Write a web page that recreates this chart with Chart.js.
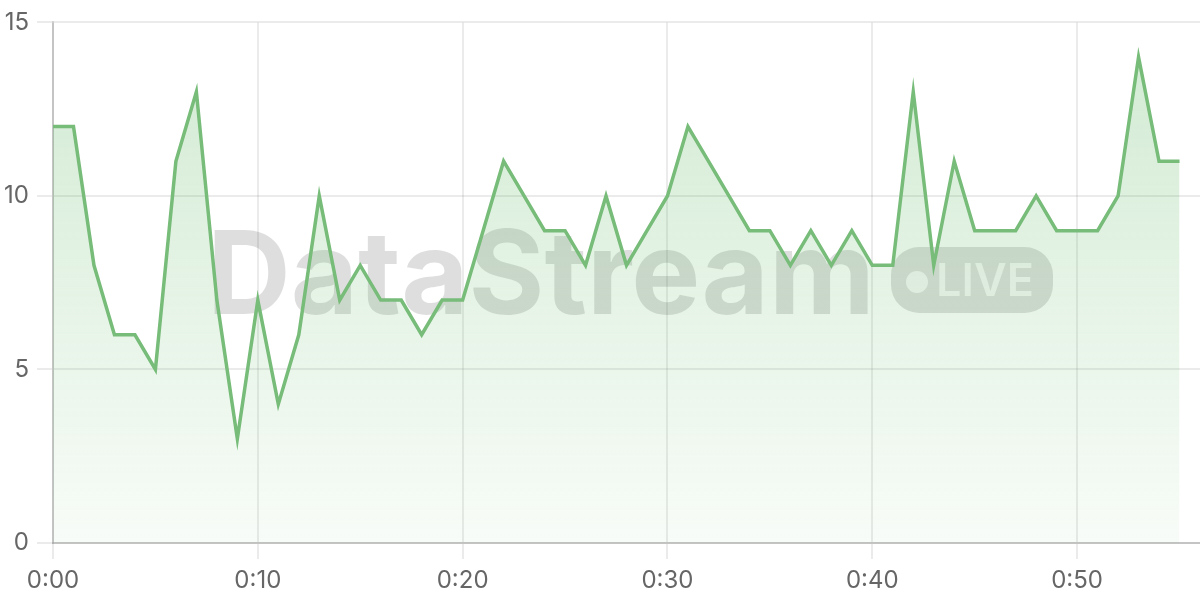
<!DOCTYPE html>
<html>
<head>
<meta charset="utf-8">
<script src="https://cdn.jsdelivr.net/npm/chart.js@4.4.1/dist/chart.umd.min.js"></script>
<style>
html,body{margin:0;padding:0;background:#fff;}
canvas{display:block;}
</style>
</head>
<body>
<canvas id="c" width="1200" height="600"></canvas>
<script>
// minutes since start
const minutes = [0,1,2,3,4,5,6,7,8,9,10,11,12,13,14,15,16,17,18,19,20,21,22,23,24,25,26,27,28,29,30,31,32,33,34,35,36,37,38,39,40,41,42,43,44,45,46,47,48,49,50,51,52,53,54,55];
const values = [12,12,8,6,6,5,11,13,7,3,7,4,6,10,7,8,7,7,6,7,7,9,11,10,9,9,8,10,8,9,10,12,11,10,9,9,8,9,8,9,8,8,13,8,11,9,9,9,10,9,9,9,10,14,11,11];
const yTicks = [0,5,10,15];
const xTicks = [0,10,20,30,40,50];
const xTickLabels = ['0:00','0:10','0:20','0:30','0:40','0:50'];
const watermarkText = 'DataStream';
const badgeText = 'LIVE';

const points = minutes.map((m,i)=>({x:m,y:values[i]}));

const watermark = {
  id:'watermark',
  beforeDatasetsDraw(chart){
    const ctx = chart.ctx;
    ctx.save();
    ctx.fillStyle = 'rgba(0,0,0,0.13)';
    ctx.font = 'bold 116px Inter, "Liberation Sans", sans-serif';
    ctx.textBaseline = 'alphabetic';
    ctx.textAlign = 'left';
    ctx.fillText(watermarkText, 207, 314);
    // badge with cut-out dot and text
    const off = document.createElement('canvas');
    off.width = 1200; off.height = 600;
    const o = off.getContext('2d');
    o.fillStyle = 'rgba(0,0,0,0.13)';
    const bx=891, by=247, bw=162, bh=66, r=28;
    o.beginPath();
    o.moveTo(bx+r,by);
    o.lineTo(bx+bw-r,by);
    o.arcTo(bx+bw,by,bx+bw,by+r,r);
    o.lineTo(bx+bw,by+bh-r);
    o.arcTo(bx+bw,by+bh,bx+bw-r,by+bh,r);
    o.lineTo(bx+r,by+bh);
    o.arcTo(bx,by+bh,bx,by+bh-r,r);
    o.lineTo(bx,by+r);
    o.arcTo(bx,by,bx+r,by,r);
    o.closePath();
    o.fill();
    o.globalCompositeOperation = 'destination-out';
    o.fillStyle = 'rgba(0,0,0,0.75)';
    o.beginPath();
    o.arc(917,282,11,0,Math.PI*2);
    o.fill();
    o.font = '600 45px Inter, "Liberation Sans", sans-serif';
    o.textBaseline = 'alphabetic';
    o.fillText(badgeText, 936, 296);
    ctx.drawImage(off,0,0);
    ctx.restore();
  }
};

const tickFont = {size:24,family:'Inter, "Liberation Sans", sans-serif'};

const ctx = document.getElementById('c').getContext('2d');
new Chart(ctx,{
  type:'line',
  data:{
    datasets:[{
      data:points,
      borderColor:'rgb(120,188,122)',
      borderWidth:3.5,
      pointRadius:0,
      tension:0,
      fill:'origin',
      backgroundColor(context){
        const chart = context.chart;
        const area = chart.chartArea;
        if(!area) return 'rgba(76,175,80,0.15)';
        const g = chart.ctx.createLinearGradient(0,area.top,0,area.bottom);
        g.addColorStop(0,'rgba(76,175,80,0.26)');
        g.addColorStop(1,'rgba(76,175,80,0.04)');
        return g;
      }
    }]
  },
  options:{
    responsive:false,
    animation:false,
    layout:{padding:{top:5,left:2,right:0,bottom:0}},
    plugins:{legend:{display:false},tooltip:{enabled:false}},
    scales:{
      x:{
        type:'linear',
        min:0,max:56,
        afterBuildTicks(scale){ scale.ticks = xTicks.map(v=>({value:v})); },
        afterFit(scale){ scale.height = 57; },
        ticks:{
          callback(v){ const i = xTicks.indexOf(v); return i>=0 ? xTickLabels[i] : ''; },
          color:'#666',
          font:tickFont,
          padding:7,
          maxRotation:0
        },
        grid:{color:'rgba(0,0,0,0.08)',lineWidth:2,tickLength:16},
        border:{color:'rgba(0,0,0,0.17)',width:2}
      },
      y:{
        min:0,max:15,
        afterBuildTicks(scale){ scale.ticks = yTicks.map(v=>({value:v})); },
        afterFit(scale){ scale.width = 51; },
        ticks:{
          color:'#666',
          font:tickFont,
          padding:8
        },
        grid:{color:'rgba(0,0,0,0.08)',lineWidth:2,tickLength:16},
        border:{color:'rgba(0,0,0,0.17)',width:2}
      }
    }
  },
  plugins:[watermark]
});
</script>
</body>
</html>
